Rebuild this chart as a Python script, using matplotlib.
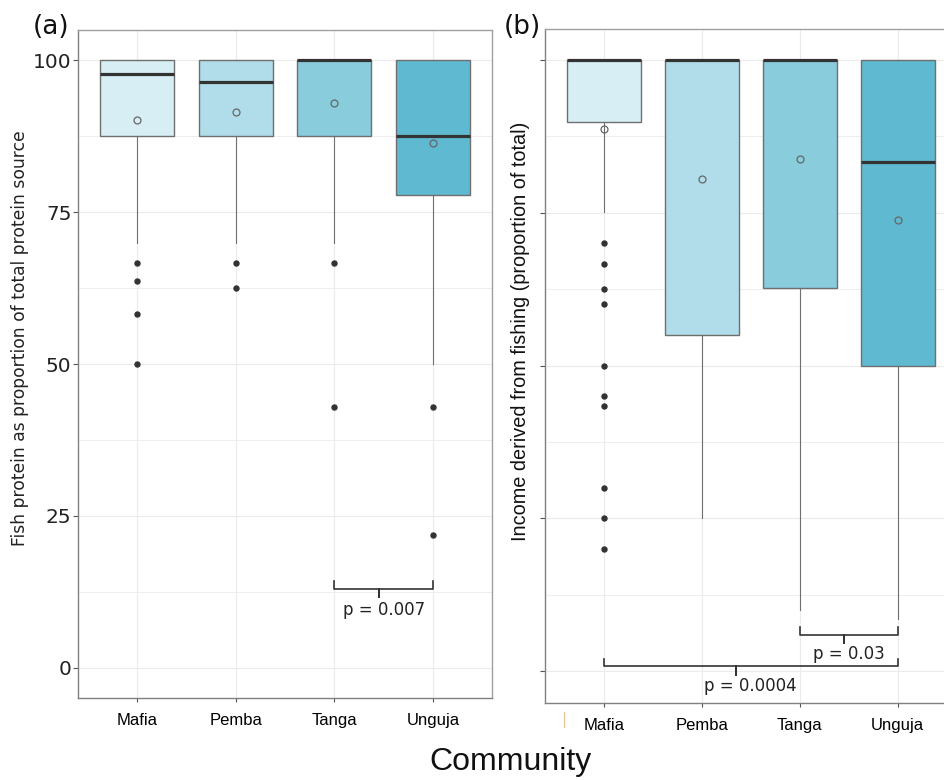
import numpy as np
import matplotlib
matplotlib.use("Agg")
import matplotlib.pyplot as plt
from matplotlib.ticker import MultipleLocator

# ---- data ----
communities = ["Mafia", "Pemba", "Tanga", "Unguja"]
box_colors = ["#d7eef4", "#b0dde9", "#89ccdc", "#5fbad1"]

# (a) fish protein as % of total protein
prot_q1 = [87.5, 87.5, 87.5, 77.9]
prot_med = [97.7, 96.4, 100.0, 87.5]
prot_q3 = [100.0, 100.0, 100.0, 100.0]
prot_lo = [70.0, 70.0, 70.0, 50.0]
prot_hi = [100.0, 100.0, 100.0, 100.0]
prot_mean = [90.1, 91.5, 93.0, 86.4]
prot_out = [[66.7, 63.6, 58.3, 50.0], [66.7, 62.5], [66.7, 42.9], [42.9, 21.8]]

# (b) income from fishing (proportion of total)
inc_q1 = [0.899, 0.55, 0.627, 0.50]
inc_med = [1.0, 1.0, 1.0, 0.833]
inc_q3 = [1.0, 1.0, 1.0, 1.0]
inc_lo = [0.751, 0.25, 0.10, 0.086]
inc_hi = [1.0, 1.0, 1.0, 1.0]
inc_mean = [0.887, 0.805, 0.838, 0.738]
inc_out = [[0.70, 0.666, 0.625, 0.60, 0.50, 0.45, 0.433, 0.30, 0.25, 0.20], [], [], []]

# significance brackets: (from, to, y, label)
prot_brackets = [(3, 4, 13.0, "p = 0.007")]
inc_brackets = [(3, 4, 0.06, "p = 0.03"), (1, 4, 0.008, "p = 0.0004")]

EDGE = "#6f6f6f"
DARK = "#333333"
GRID = "#ebebeb"


def make_stats(q1, med, q3, lo, hi, mean, out):
    stats = []
    for i in range(len(q1)):
        stats.append(dict(q1=q1[i], med=med[i], q3=q3[i], whislo=lo[i],
                          whishi=hi[i], mean=mean[i], fliers=out[i]))
    return stats


def draw_panel(ax, stats, ylim, major, bracket_list, tip, tick_depth, txt_off):
    pos = np.arange(1, len(stats) + 1)
    bp = ax.bxp(stats, positions=pos, widths=0.75, patch_artist=True,
                showmeans=True, showcaps=False, zorder=3,
                boxprops=dict(edgecolor=EDGE, linewidth=1.0),
                medianprops=dict(color=DARK, linewidth=2.3, solid_capstyle="butt"),
                whiskerprops=dict(color=EDGE, linewidth=0.8),
                meanprops=dict(marker="o", markerfacecolor="none",
                               markeredgecolor="#666666", markersize=5,
                               markeredgewidth=0.9),
                flierprops=dict(marker="o", markerfacecolor=DARK,
                                markeredgecolor=DARK, markersize=3.6))
    for patch, c in zip(bp["boxes"], box_colors):
        patch.set_facecolor(c)

    ax.set_xlim(0.4, len(stats) + 0.6)
    ax.set_ylim(*ylim)
    ax.set_xticks(pos)
    ax.set_xticklabels(communities, fontfamily="Liberation Sans", fontsize=12)
    ax.yaxis.set_major_locator(MultipleLocator(major))
    ax.yaxis.set_minor_locator(MultipleLocator(major / 2))
    ax.grid(True, which="major", color=GRID, linewidth=0.8, zorder=0)
    ax.grid(True, which="minor", axis="y", color=GRID, linewidth=0.6, zorder=0)
    ax.set_axisbelow(True)
    ax.tick_params(axis="x", length=3, color="#555555", pad=8)
    ax.tick_params(axis="y", which="major", length=3.5, color="#555555", pad=1.2,
                   labelsize=14.5)
    ax.tick_params(axis="y", which="minor", length=0)
    for name, sp in ax.spines.items():
        sp.set_color("#808080" if name in ("left", "bottom") else "#a0a0a0")
        sp.set_linewidth(1.0)

    for a, b, y, label in bracket_list:
        xm = a + 0.45 * (b - a)
        ax.plot([a, a, xm, xm, xm, b, b], [y + tip, y, y, y - tick_depth, y, y, y + tip],
                color=DARK, linewidth=1.2, zorder=4, solid_joinstyle="round")
        ax.text((a + b) / 2, y - txt_off, label, ha="center", va="center",
                fontsize=12, color="#222222", zorder=5)


fig = plt.figure(figsize=(9.44, 7.8), dpi=100)

ax1 = fig.add_axes([78 / 944, 82 / 780, 414 / 944, 668 / 780])
draw_panel(ax1, make_stats(prot_q1, prot_med, prot_q3, prot_lo, prot_hi, prot_mean, prot_out),
           (-5, 105), 25, prot_brackets, 1.2, 1.4, 3.5)
for lab in ax1.get_yticklabels():
    lab.set_color("#222222")

ax2 = fig.add_axes([545 / 944, 77 / 780, 411.6 / 944, 673.7 / 780])
draw_panel(ax2, make_stats(inc_q1, inc_med, inc_q3, inc_lo, inc_hi, inc_mean, inc_out),
           (-0.052, 1.05), 0.25, inc_brackets, 0.012, 0.014, 0.032)
ax2.set_yticklabels([])

# axis titles
fig.text(20 / 944, 1 - 338 / 780, "Fish protein as proportion of total protein source",
         rotation=90, ha="center", va="center", fontsize=12.3, color="#222222")
fig.text(521 / 944, 1 - 331 / 780, "Income derived from fishing (proportion of total)",
         rotation=90, ha="center", va="center", fontsize=14.3,
         fontfamily="Liberation Sans", color="#111111")
fig.text(511 / 944, 1 - 762 / 780, "Community", ha="center", va="center",
         fontsize=23, fontfamily="Liberation Sans", color="#111111")

# panel tags
fig.text(51 / 944, 1 - 27 / 780, "(a)", ha="center", va="center", fontsize=19, color="#111111")
fig.text(522 / 944, 1 - 27 / 780, "(b)", ha="center", va="center", fontsize=19, color="#111111")

# faint mark left of the Mafia label in panel b
fig.add_artist(plt.Line2D([564 / 944, 564 / 944], [1 - 727 / 780, 1 - 712 / 780],
                          color="#e8c89a", linewidth=1.0))

fig.savefig("out.png", dpi=100)
